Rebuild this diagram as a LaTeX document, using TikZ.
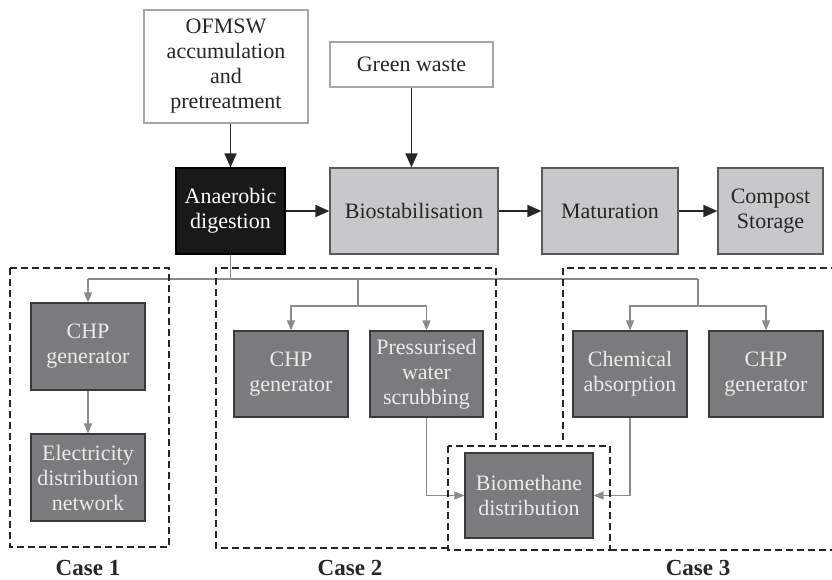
\documentclass[tikz,border=0pt]{standalone}
\usepackage{fontspec}
\setmainfont{Liberation Serif}
\usetikzlibrary{arrows.meta}
\definecolor{darkbox}{HTML}{7B7B7D}
\definecolor{darkedge}{HTML}{3A3A3A}
\definecolor{lightbox}{HTML}{C8C8CA}
\definecolor{lightedge}{HTML}{5A5A5A}
\definecolor{conn}{HTML}{8A8A8C}
\tikzset{
  x=1pt, y=1pt,
  base/.style={align=center, inner sep=0pt, font=\fontsize{22}{25}\selectfont},
  whitebox/.style={base, draw=gray!70, line width=1.2pt, fill=white, text=black!85},
  lightbx/.style={base, draw=lightedge, line width=1.2pt, fill=lightbox, text=black!85},
  blackbx/.style={base, draw=black, line width=1.2pt, fill=black!90, text=white},
  darkbx/.style={base, draw=darkedge, line width=1.2pt, fill=darkbox, text=white!92!black},
  mainarrow/.style={line width=1.8pt, draw=black!85, -{Triangle[length=14pt,width=12pt]}},
  subline/.style={line width=1.4pt, draw=conn},
  subarrow/.style={subline, -{Triangle[length=10pt,width=8pt]}},
  casebox/.style={line width=2pt, draw=black!85, dash pattern=on 7pt off 4pt},
  caselabel/.style={font=\fontsize{23}{26}\selectfont\bfseries, text=black!85}
}
\begin{document}
\begin{tikzpicture}
\useasboundingbox (0,0) rectangle (832,-579);
% top row
\node[whitebox, minimum width=164pt, minimum height=113pt] (ofmsw) at (226,-66.5) {OFMSW\\accumulation\\and\\pretreatment};
\node[whitebox, minimum width=163pt, minimum height=45pt] (green) at (411.5,-64.5) {Green waste};
\node[blackbx, minimum width=109pt, minimum height=86pt] (ad) at (230.5,-211) {Anaerobic\\digestion};
\node[lightbx, minimum width=168pt, minimum height=86pt] (bio) at (414,-211) {Biostabilisation};
\node[lightbx, minimum width=136pt, minimum height=86pt] (mat) at (610,-211) {Maturation};
\node[lightbx, minimum width=105pt, minimum height=86pt] (comp) at (770.5,-211) {Compost\\Storage};
% lower boxes
\node[darkbx, minimum width=114pt, minimum height=87pt] (chp1) at (88,-346.5) {CHP\\generator};
\node[darkbx, minimum width=114pt, minimum height=87pt] (elec) at (88,-477.5) {Electricity\\distribution\\network};
\node[darkbx, minimum width=114pt, minimum height=86pt] (chp2) at (291,-374) {CHP\\generator};
\node[darkbx, minimum width=113pt, minimum height=86pt] (pws) at (426.5,-374) {Pressurised\\water\\scrubbing};
\node[darkbx, minimum width=114pt, minimum height=86pt] (chem) at (630,-374) {Chemical\\absorption};
\node[darkbx, minimum width=114pt, minimum height=86pt] (chp3) at (766,-374) {CHP\\generator};
\node[darkbx, minimum width=128pt, minimum height=85pt] (bm) at (529,-495.5) {Biomethane\\distribution};
% main arrows
\draw[mainarrow] (ad.north |- ofmsw.south) -- (ad.north);
\draw[mainarrow] (green.south) -- (green.south |- bio.north);
\draw[mainarrow] (ad.east) -- (bio.west);
\draw[mainarrow] (bio.east) -- (mat.west);
\draw[mainarrow] (mat.east) -- (comp.west);
% distribution tree
\coordinate (h1) at (88,-279);
\coordinate (t2) at (358,-279);
\coordinate (t3) at (698,-279);
\coordinate (b2) at (358,-306);
\coordinate (b3) at (698,-306);
\draw[subline] (ad.south) -- (ad.south |- h1);
\draw[subline] (h1) -- (t3);
\draw[subarrow] (h1) -- (chp1.north);
\draw[subarrow] (chp1.south) -- (elec.north);
\draw[subline] (t2) -- (b2);
\draw[subarrow] (b2) -| (chp2.north);
\draw[subarrow] (b2) -| (pws.north);
\draw[subline] (t3) -- (b3);
\draw[subarrow] (b3) -| (chem.north);
\draw[subarrow] (b3) -| (chp3.north);
\draw[subarrow] (pws.south) |- (bm.west);
\draw[subarrow] (chem.south) |- (bm.east);
% case regions
\draw[casebox] (10,-268) rectangle (169,-547);
\draw[casebox] (496,-440) -- (496,-268) -- (216,-268) -- (216,-548) -- (448,-548);
\draw[casebox] (563,-440) -- (563,-268) -- (832,-268);
\draw[casebox] (610,-550) -- (832,-550);
\draw[casebox] (448,-446) rectangle (610,-550);
\node[caselabel] (c1) at (88,-568) {Case 1};
\node[caselabel] (c2) at (350,-568) {Case 2};
\node[caselabel] (c3) at (698,-568) {Case 3};
\end{tikzpicture}
\end{document}
